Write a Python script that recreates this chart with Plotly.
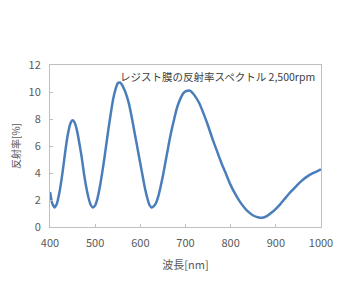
import plotly.graph_objects as go

wavelength = [400, 405, 410, 415, 420, 425, 430, 435, 440, 445, 450,
              455, 460, 465, 470, 475, 480, 485, 490, 495,
              500, 505, 510, 515, 520, 525, 530, 535, 540, 545, 550, 555,
              560, 565, 570, 575, 580, 585, 590, 595, 600, 605, 610, 615, 620, 625, 630,
              635, 640, 645, 650, 655, 660, 665, 670, 675, 680, 685, 690, 695, 700, 705, 710, 715,
              720, 730, 740, 750, 760, 770, 780, 790, 800, 810, 820, 830, 840, 850, 860, 870,
              880, 890, 900, 910, 920, 930, 940, 950, 960, 970, 980, 990, 1000]
reflectance = [2.6, 1.75, 1.45, 1.7, 2.4, 3.4, 4.6, 5.9, 6.95, 7.65, 7.9,
               7.7, 7.1, 6.2, 5.2, 4.0, 3.0, 2.2, 1.65, 1.45,
               1.6, 2.1, 2.9, 3.9, 5.0, 6.2, 7.4, 8.5, 9.5, 10.2, 10.65, 10.7,
               10.5, 10.15, 9.7, 9.1, 8.3, 7.4, 6.5, 5.6, 4.7, 3.8, 2.9, 2.2, 1.65, 1.45, 1.55,
               1.8, 2.3, 3.0, 3.8, 4.7, 5.6, 6.5, 7.3, 8.0, 8.7, 9.2, 9.6, 9.9, 10.05, 10.1, 10.1, 9.95,
               9.75, 9.2, 8.4, 7.5, 6.5, 5.6, 4.7, 3.9, 3.1, 2.45, 1.9, 1.45, 1.1, 0.85, 0.72, 0.68,
               0.8, 1.05, 1.35, 1.7, 2.1, 2.5, 2.85, 3.2, 3.5, 3.75, 3.95, 4.1, 4.27]
x_ticks = [400, 500, 600, 700, 800, 900, 1000]
y_ticks = [0, 2, 4, 6, 8, 10, 12]

title_text = "レジスト膜の反射率スペクトル 2,500rpm"
x_title = "波長[nm]"
y_title = "反射率[%]"

fig = go.Figure()
fig.add_trace(go.Scatter(x=wavelength, y=reflectance, mode="lines",
                         line=dict(color="#4A7EBB", width=2.5, shape="spline", smoothing=0.5),
                         showlegend=False))

font_family = "Noto Sans CJK JP"
fig.update_layout(
    width=363, height=283,
    margin=dict(l=50, r=42, t=65, b=56),
    plot_bgcolor="white", paper_bgcolor="white",
    font=dict(family=font_family, size=11, color="#595959"),
    xaxis=dict(range=[400, 1000], tickvals=x_ticks, ticks="inside", ticklen=3,
               tickcolor="#BFBFBF", showgrid=False, zeroline=False,
               showline=True, linecolor="#BFBFBF", mirror=True,
               ticklabelstandoff=6,
               tickfont=dict(size=11, color="#595959"),
               title=dict(text=x_title, font=dict(size=11, color="#595959"), standoff=12)),
    yaxis=dict(range=[0, 12], tickvals=y_ticks, ticks="inside", ticklen=3,
               tickcolor="#BFBFBF", showgrid=False, zeroline=False,
               showline=True, linecolor="#BFBFBF", mirror=True,
               ticklabelstandoff=6,
               tickfont=dict(size=11, color="#595959"),
               title=dict(text=y_title, font=dict(size=10, color="#595959"), standoff=6)),
    annotations=[dict(text=title_text, xref="paper", yref="paper", x=0.985, y=0.985,
                      xanchor="right", yanchor="top", showarrow=False,
                      font=dict(size=10.5, color="#404040"))],
)

fig.write_html("out.html")
